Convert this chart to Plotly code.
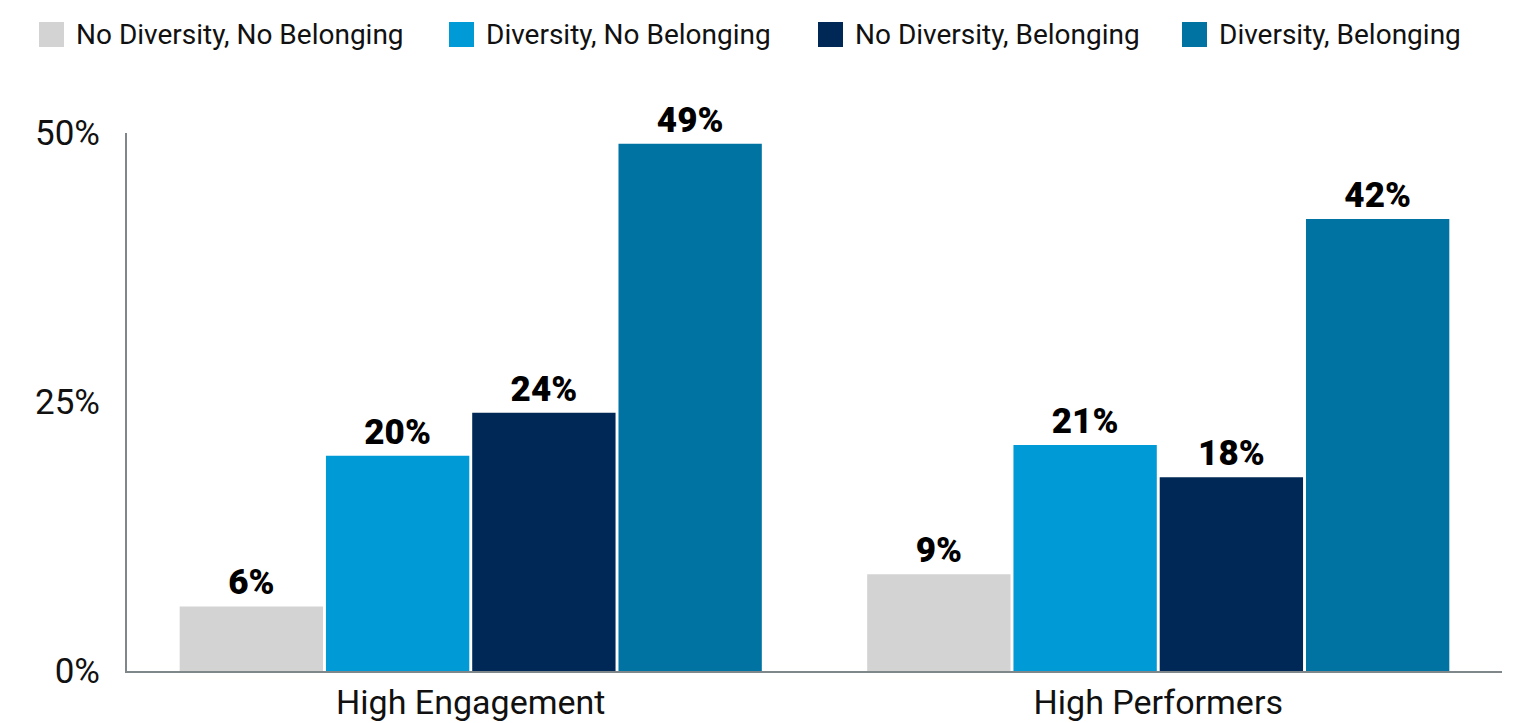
import plotly.graph_objects as go

# Chart data
categories = ["High Engagement", "High Performers"]
series_names = [
    "No Diversity, No Belonging",
    "Diversity, No Belonging",
    "No Diversity, Belonging",
    "Diversity, Belonging",
]
values_no_div_no_bel = [6, 9]
values_div_no_bel = [20, 21]
values_no_div_bel = [24, 18]
values_div_bel = [49, 42]
y_tick_values = [0, 25, 50]
y_tick_labels = ["0%", "25%", "50%"]

series_values = [values_no_div_no_bel, values_div_no_bel, values_no_div_bel, values_div_bel]
colors = ["#D3D3D3", "#009AD7", "#002856", "#0073A2"]

W, H = 1513, 723
M_L, M_R, M_T, M_B = 127, 11, 133, 52
FONT = "Roboto"

fig = go.Figure()
for name, vals, col in zip(series_names, series_values, colors):
    fig.add_trace(go.Bar(
        x=categories,
        y=vals,
        name=name,
        marker=dict(color=col, line=dict(width=0)),
        text=[f"{v}%" for v in vals],
        textposition="outside",
        textfont=dict(family=FONT, size=35, color="#000000", weight=900),
        cliponaxis=False,
        showlegend=False,
    ))

# Legend row drawn as swatches + labels above the plot
plot_w = W - M_L - M_R
plot_h = H - M_T - M_B


def px_x(px):
    return (px - M_L) / plot_w


def px_y(py):
    return (H - M_B - py) / plot_h


legend_left = [39, 449, 818, 1182]
sw = 25
row_top = 22
shapes = []
annotations = []
for name, col, lx in zip(series_names, colors, legend_left):
    shapes.append(dict(
        type="rect", xref="paper", yref="paper",
        x0=px_x(lx), x1=px_x(lx + sw),
        y0=px_y(row_top + sw), y1=px_y(row_top),
        fillcolor=col, line=dict(width=0), layer="above",
    ))
    annotations.append(dict(
        text=name, xref="paper", yref="paper",
        x=px_x(lx + sw + 10), y=px_y(row_top + sw / 2),
        xanchor="left", yanchor="middle", showarrow=False,
        font=dict(family=FONT, size=28, color="#111111"),
    ))

fig.update_layout(
    width=W, height=H,
    margin=dict(l=M_L, r=M_R, t=M_T, b=M_B, pad=0, autoexpand=False),
    paper_bgcolor="white",
    plot_bgcolor="white",
    barmode="group",
    bargap=0.149,
    bargroupgap=0.02,
    shapes=shapes,
    annotations=annotations,
    font=dict(family=FONT, color="#111111"),
    xaxis=dict(
        showline=True, linecolor="#7F878A", linewidth=2,
        showgrid=False, ticks="", automargin=False,
        tickfont=dict(family=FONT, size=34, color="#111111"),
        ticklabelstandoff=0,
    ),
    yaxis=dict(
        range=[0, 50],
        tickvals=y_tick_values, ticktext=y_tick_labels,
        showline=True, linecolor="#7F878A", linewidth=2,
        showgrid=False, zeroline=False, ticks="", automargin=False,
        tickfont=dict(family=FONT, size=35, color="#111111"),
        ticklabelstandoff=18,
    ),
)

fig.write_html("out.html")
